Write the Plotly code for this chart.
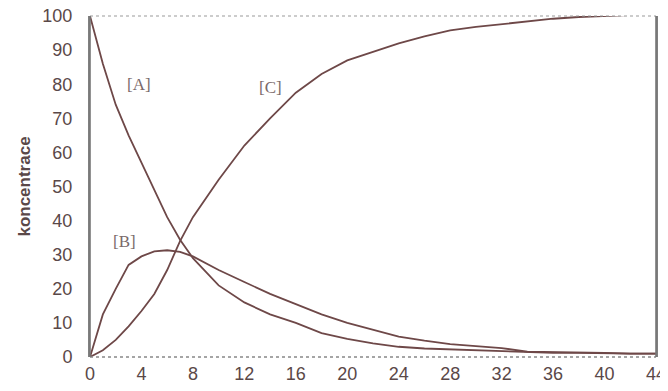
import plotly.graph_objects as go

# time axis
t = [0, 1, 2, 3, 4, 5, 6, 7, 8, 10, 12, 14, 16, 18, 20, 22, 24, 26, 28, 30, 32, 34, 36, 38, 40, 42, 44]

conc_A = [100, 86, 74, 65, 57, 49, 41, 34.4, 29, 21, 16, 12.5, 10, 7, 5.3, 4, 3, 2.5, 2.2, 1.9, 1.6, 1.3, 1.2, 1.2, 1.0, 1.0, 1.0]
conc_B = [0, 12.5, 20, 27, 29.5, 31, 31.3, 30.8, 29.5, 25.5, 22, 18.5, 15.5, 12.5, 10, 8, 6, 4.8, 3.8, 3.2, 2.6, 1.6, 1.5, 1.5, 1.2, 1.0, 1.0]
conc_C = [0, 2, 5, 9, 13.5, 18.5, 25.5, 34, 41, 52, 62, 70, 77.5, 83, 87, 89.5, 92, 94, 95.8, 96.8, 97.6, 98.5, 99.2, 99.7, 100, 100.3, 100.3]

x_ticks = list(range(0, 45, 4))
y_ticks = list(range(0, 101, 10))

series_labels = ["[A]", "[B]", "[C]"]
label_pos_x = [3.8, 2.7, 14.0]
label_pos_y = [80, 34, 79]

line_color = "#6e4848"
text_color = "#5a4848"

fig = go.Figure()
for ys in (conc_A, conc_B, conc_C):
    fig.add_trace(go.Scatter(x=t, y=ys, mode="lines",
                             line=dict(color=line_color, width=1.8),
                             showlegend=False, hoverinfo="skip", cliponaxis=False))

for lab, lx, ly in zip(series_labels, label_pos_x, label_pos_y):
    fig.add_annotation(x=lx, y=ly, text=lab, showarrow=False,
                       font=dict(family="Liberation Serif, DejaVu Serif, serif", size=17, color="#7a6a6a"))

# frame: dotted top/bottom, solid left/right
fig.add_shape(type="line", xref="paper", yref="paper", x0=0, x1=1, y0=1, y1=1,
              line=dict(color="#999999", width=1.2, dash="dot"), layer="above")
fig.add_shape(type="line", xref="paper", yref="paper", x0=0, x1=1, y0=0, y1=0,
              line=dict(color="#888888", width=1.4, dash="dot"), layer="above")
fig.add_shape(type="line", xref="x domain", yref="y domain", x0=0, x1=0, y0=0, y1=1,
              line=dict(color="#777777", width=1.6), layer="above")
fig.add_shape(type="line", xref="x domain", yref="y domain", x0=1, x1=1, y0=0, y1=1,
              line=dict(color="#777777", width=1.6), layer="above")

# The page body has an 8px default margin, so size/margins compensate for it.
fig.update_layout(
    width=660, height=383,
    margin=dict(l=82, r=12, t=8, b=34),
    paper_bgcolor="white", plot_bgcolor="white",
    font=dict(family="Liberation Sans, Arial, sans-serif", color=text_color, size=17),
    xaxis=dict(range=[0, 44], tickvals=x_ticks, ticktext=[str(v) for v in x_ticks],
               showgrid=False, zeroline=False, showline=False, ticks="",
               automargin=False, ticklabelstandoff=4, ticklabeloverflow="allow",
               tickfont=dict(size=18, color=text_color)),
    yaxis=dict(range=[0, 100], tickvals=y_ticks, ticktext=[str(v) for v in y_ticks],
               showgrid=False, zeroline=False, showline=True, mirror=True,
               linecolor="#808080", linewidth=2, ticks="",
               automargin=False, ticklabelstandoff=12, ticklabeloverflow="allow",
               tickfont=dict(size=18, color=text_color),
               title=dict(text="<b>koncentrace</b>", standoff=7,
                          font=dict(size=17, color=text_color))),
)

fig.write_html("out.html")
